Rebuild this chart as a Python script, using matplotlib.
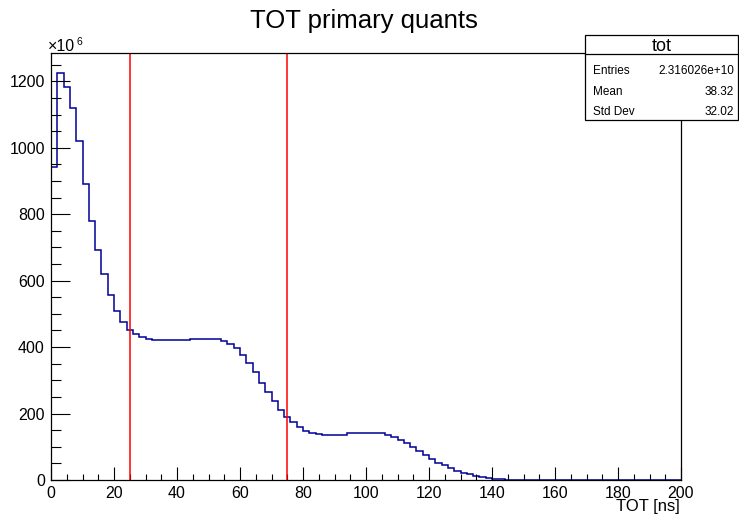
import numpy as np
import matplotlib
matplotlib.use("Agg")
import matplotlib.pyplot as plt
from matplotlib.patches import Rectangle
from matplotlib.lines import Line2D

plt.rcParams["font.family"] = ["Liberation Sans", "DejaVu Sans"]

# TOT histogram, 100 bins of 2 ns from 0 to 200 ns, counts in units of 1e6
bin_edges = np.arange(0, 202, 2)
counts = [942, 1224, 1182, 1120, 1021, 892, 780, 692, 619, 558,
          510, 477, 451, 439, 429, 424, 421, 420, 420, 420,
          421, 421, 425, 425, 425, 425, 425, 417, 410, 398,
          377, 352, 325, 292, 265, 238, 211, 190, 175, 159,
          148, 142, 138, 135, 135, 135, 135, 140, 140, 140,
          140, 140, 140, 135, 128, 121, 112, 99, 87, 74,
          63, 52, 44, 35, 28, 22, 17, 13, 9, 5,
          4, 3] + [0] * 28
cut_lines = [25, 75]

stat_names = ["Entries", "Mean", "Std Dev"]
stat_values = ["2.316026e+10", "38.32", "32.02"]

W, H = 739, 519
fig = plt.figure(figsize=(W / 100, H / 100), dpi=100)

def fx(px):
    return px / W

def fy(py):
    return 1 - py / H

ax = fig.add_axes([fx(51), fy(480), fx(681) - fx(51), fy(53) - fy(480)])
ax.stairs(counts, bin_edges, color="#000099", lw=1.1)
for xc in cut_lines:
    ax.axvline(xc, color="#ff0000", lw=1.1)

ax.set_xlim(0, 200)
ax.set_ylim(0, 1.05 * max(counts))
ax.set_xticks(np.arange(0, 201, 20))
ax.set_xticks(np.arange(0, 201, 5), minor=True)
ax.set_yticks(np.arange(0, 1201, 200))
ax.set_yticks(np.arange(0, 1251, 50), minor=True)

ax.tick_params(axis="both", which="both", direction="in", width=0.8,
               top=False, right=False, labelsize=11.5, pad=4.5)
ax.tick_params(axis="y", which="major", length=13.7)
ax.tick_params(axis="y", which="minor", length=7)
ax.tick_params(axis="x", which="major", length=9.2)
ax.tick_params(axis="x", which="minor", length=4.6)
for s in ax.spines.values():
    s.set_linewidth(0.9)

fig.text(fx(680), fy(511), "TOT [ns]", ha="right", va="baseline",
         fontsize=12)
fig.text(fx(48), fy(51), "×10", ha="left", va="baseline", fontsize=11.5)
fig.text(fx(76.5), fy(45), "6", ha="left", va="baseline", fontsize=7.5)

fig.text(fx(364), fy(28), "TOT primary quants", ha="center",
         va="baseline", fontsize=18.5)

# stats box
bx0, by0, bx1, by1 = 585, 35, 738, 120
fig.patches.append(Rectangle((fx(bx0), fy(by1)), fx(bx1) - fx(bx0),
                             fy(by0) - fy(by1), transform=fig.transFigure,
                             facecolor="white", edgecolor="black", lw=0.9,
                             zorder=5))
fig.lines.append(Line2D([fx(bx0), fx(bx1)], [fy(54), fy(54)],
                        transform=fig.transFigure, color="black", lw=0.9,
                        zorder=6))
fig.text(fx(662), fy(51), "tot", ha="center", va="baseline", fontsize=13,
         zorder=7)
for i, (name, val) in enumerate(zip(stat_names, stat_values)):
    yb = [74, 95, 115][i]
    fig.text(fx(593), fy(yb), name, ha="left", va="baseline", fontsize=8.5,
             zorder=7)
    fig.text(fx(734), fy(yb), val, ha="right", va="baseline", fontsize=8.5,
             zorder=7)

fig.savefig("out.png", dpi=100)
